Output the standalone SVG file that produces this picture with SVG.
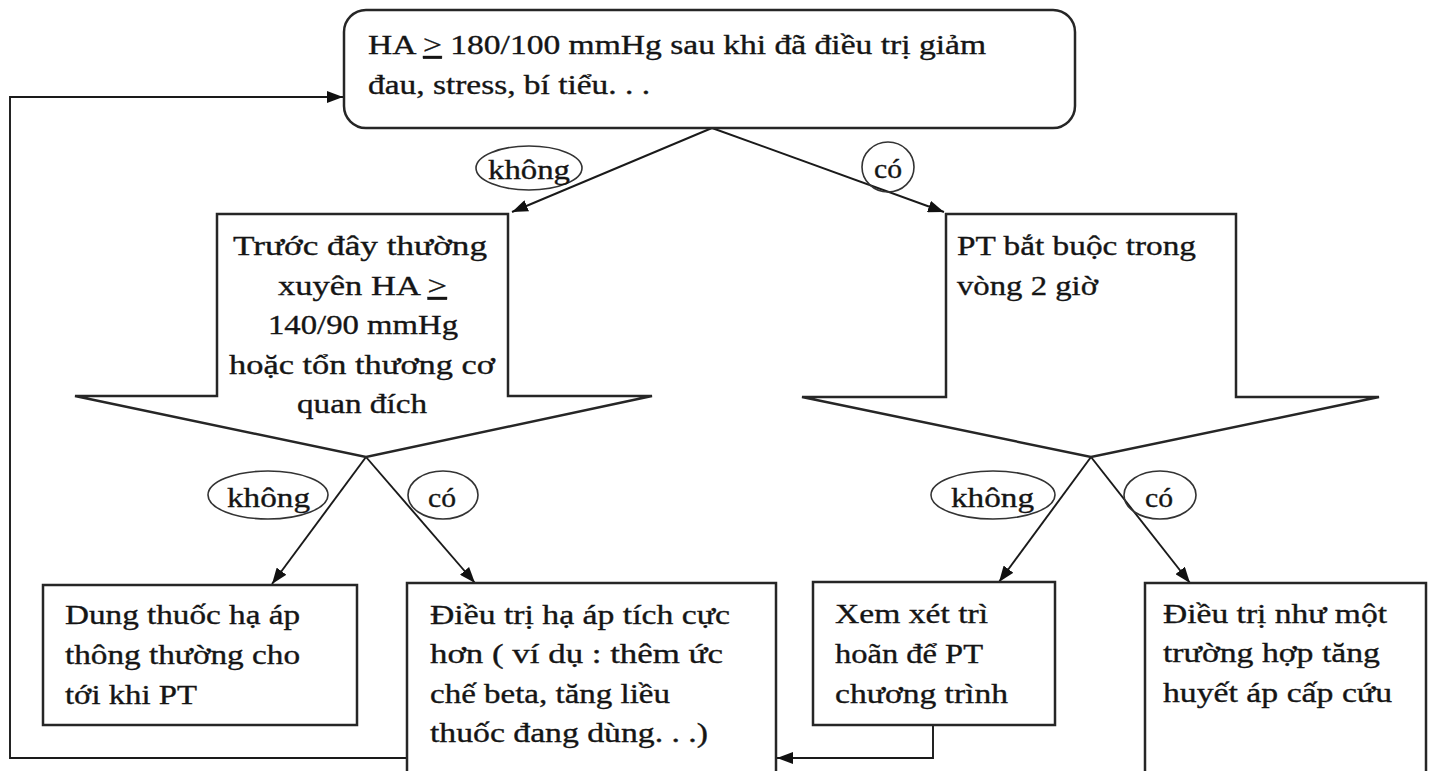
<svg xmlns="http://www.w3.org/2000/svg" width="1434" height="771" viewBox="0 0 1434 771">
  <style>
    text { font-family: "Liberation Serif", "Times New Roman", serif; font-size: 28px; fill: #151515; stroke: #151515; stroke-width: 0.35; }
    .box { fill: #ffffff; stroke: #262626; stroke-width: 2.5; }
    .lbl { fill: none; stroke: #333333; stroke-width: 1.6; }
    .link { fill: none; stroke: #1a1a1a; stroke-width: 1.9; }
    .u { text-decoration: underline; }
  </style>
  <defs>
    <marker id="head" viewBox="0 0 16 12" refX="16" refY="6" markerWidth="16" markerHeight="12" markerUnits="userSpaceOnUse" orient="auto">
      <path d="M0,0 L16,6 L0,12 z" fill="#111111"/>
    </marker>
  </defs>

  <!-- connectors -->
  <g id="connectors">
    <line class="link" x1="712" y1="128" x2="512" y2="212" marker-end="url(#head)"/>
    <line class="link" x1="712" y1="128" x2="944" y2="212" marker-end="url(#head)"/>
    <line class="link" x1="366" y1="457" x2="272" y2="584" marker-end="url(#head)"/>
    <line class="link" x1="366" y1="457" x2="475" y2="583" marker-end="url(#head)"/>
    <line class="link" x1="1091" y1="457" x2="999" y2="582" marker-end="url(#head)"/>
    <line class="link" x1="1091" y1="457" x2="1190" y2="583" marker-end="url(#head)"/>
    <polyline class="link" points="407,758 10,758 10,97 343,97" stroke-width="2.2" marker-end="url(#head)"/>
    <polyline class="link" points="933,725 933,758 777,758" stroke-width="2.2" marker-end="url(#head)"/>
  </g>

  <!-- branch labels -->
  <g id="labels">
    <ellipse class="lbl" cx="529" cy="168" rx="53" ry="22"/>
    <text x="488" y="179" textLength="82" lengthAdjust="spacingAndGlyphs">không</text>
    <ellipse class="lbl" cx="888" cy="167" rx="26" ry="25"/>
    <text x="874" y="178" textLength="28" lengthAdjust="spacingAndGlyphs">có</text>
    <ellipse class="lbl" cx="268" cy="495" rx="60" ry="24"/>
    <text x="227" y="507" textLength="83" lengthAdjust="spacingAndGlyphs">không</text>
    <ellipse class="lbl" cx="443" cy="495" rx="35" ry="24"/>
    <text x="428" y="507" textLength="28" lengthAdjust="spacingAndGlyphs">có</text>
    <ellipse class="lbl" cx="993" cy="495" rx="62" ry="24"/>
    <text x="951" y="507" textLength="83" lengthAdjust="spacingAndGlyphs">không</text>
    <ellipse class="lbl" cx="1160" cy="495" rx="36" ry="24"/>
    <text x="1145" y="507" textLength="28" lengthAdjust="spacingAndGlyphs">có</text>
  </g>

  <!-- start condition -->
  <g id="start">
    <rect class="box" x="344" y="10" width="731" height="118" rx="22"/>
    <text x="368" y="54" textLength="618" lengthAdjust="spacingAndGlyphs">HA <tspan class="u">&gt;</tspan> 180/100 mmHg sau khi đã điều trị giảm</text>
    <text x="368" y="94" textLength="282" lengthAdjust="spacingAndGlyphs">đau, stress, bí tiểu. . .</text>
  </g>

  <!-- decision: prior hypertension -->
  <g id="prior-hypertension">
    <polygon class="box" points="217,214 508,214 508,396 652,396 366,457 75,396 217,396"/>
    <text x="233" y="255" textLength="254" lengthAdjust="spacingAndGlyphs">Trước đây thường</text>
    <text x="278" y="295" textLength="169" lengthAdjust="spacingAndGlyphs">xuyên HA <tspan class="u">&gt;</tspan></text>
    <text x="268" y="334" textLength="190" lengthAdjust="spacingAndGlyphs">140/90 mmHg</text>
    <text x="229" y="374" textLength="266" lengthAdjust="spacingAndGlyphs">hoặc tổn thương cơ</text>
    <text x="297" y="413" textLength="130" lengthAdjust="spacingAndGlyphs">quan đích</text>
  </g>

  <!-- decision: urgent surgery -->
  <g id="urgent-surgery">
    <polygon class="box" points="946,214 1236,214 1236,397 1379,397 1091,457 802,397 946,397"/>
    <text x="957" y="255" textLength="239" lengthAdjust="spacingAndGlyphs">PT bắt buộc trong</text>
    <text x="957" y="295" textLength="141" lengthAdjust="spacingAndGlyphs">vòng 2 giờ</text>
  </g>

  <!-- outcome: usual treatment -->
  <g id="usual-treatment">
    <rect class="box" x="43" y="585" width="314" height="140"/>
    <text x="65" y="624" textLength="235" lengthAdjust="spacingAndGlyphs">Dung thuốc hạ áp</text>
    <text x="65" y="664" textLength="235" lengthAdjust="spacingAndGlyphs">thông thường cho</text>
    <text x="65" y="704" textLength="132" lengthAdjust="spacingAndGlyphs">tới khi PT</text>
  </g>

  <!-- outcome: intensified treatment -->
  <g id="intensified-treatment">
    <rect class="box" x="407" y="583" width="369" height="200"/>
    <text x="430" y="624" textLength="300" lengthAdjust="spacingAndGlyphs">Điều trị hạ áp tích cực</text>
    <text x="430" y="663" textLength="293" lengthAdjust="spacingAndGlyphs">hơn ( ví dụ : thêm ức</text>
    <text x="430" y="703" textLength="240" lengthAdjust="spacingAndGlyphs">chế beta, tăng liều</text>
    <text x="430" y="742" textLength="278" lengthAdjust="spacingAndGlyphs">thuốc đang dùng. . .)</text>
  </g>

  <!-- outcome: postpone surgery -->
  <g id="postpone-surgery">
    <rect class="box" x="813" y="582" width="242" height="143"/>
    <text x="835" y="623" textLength="153" lengthAdjust="spacingAndGlyphs">Xem xét trì</text>
    <text x="835" y="663" textLength="148" lengthAdjust="spacingAndGlyphs">hoãn để PT</text>
    <text x="835" y="703" textLength="173" lengthAdjust="spacingAndGlyphs">chương trình</text>
  </g>

  <!-- outcome: emergency treatment -->
  <g id="emergency-treatment">
    <rect class="box" x="1145" y="583" width="281" height="200"/>
    <text x="1163" y="623" textLength="224" lengthAdjust="spacingAndGlyphs">Điều trị như một</text>
    <text x="1163" y="662" textLength="217" lengthAdjust="spacingAndGlyphs">trường hợp tăng</text>
    <text x="1163" y="702" textLength="229" lengthAdjust="spacingAndGlyphs">huyết áp cấp cứu</text>
  </g>
</svg>
